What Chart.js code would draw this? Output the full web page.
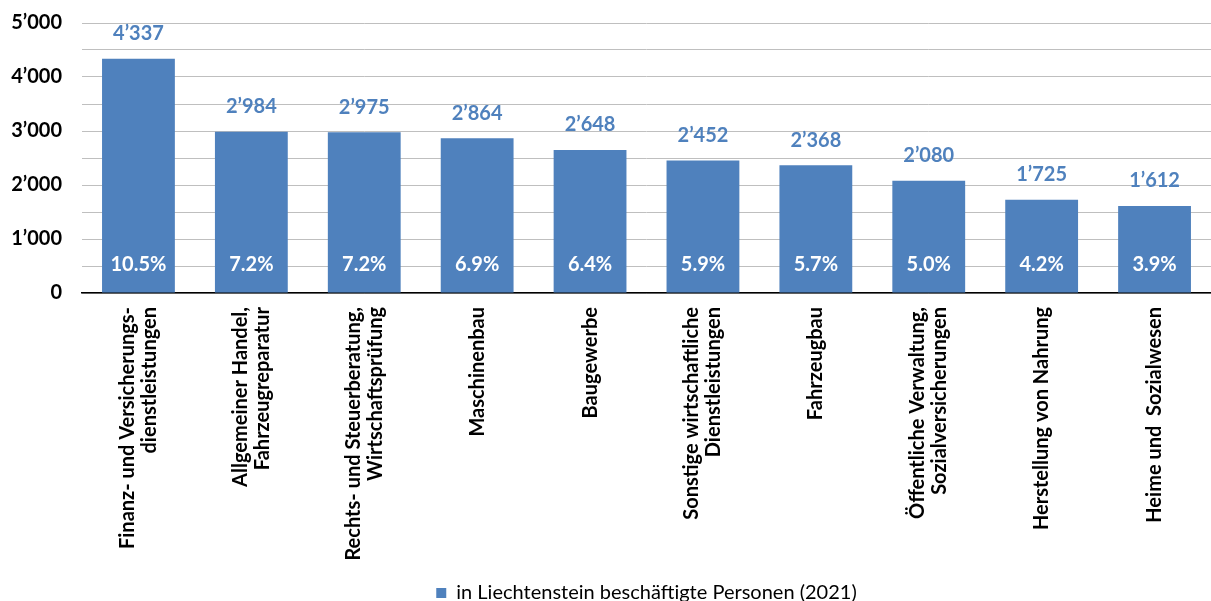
<!DOCTYPE html>
<html>
<head>
<meta charset="utf-8">
<script src="https://cdn.jsdelivr.net/npm/chart.js@4/dist/chart.umd.min.js"></script>
<style>
  html, body { margin: 0; padding: 0; background: #ffffff; }
  #wrap { width: 1211px; height: 601px; }
</style>
</head>
<body>
<div id="wrap"><canvas id="chart"></canvas></div>
<script>
// Categories (line breaks as in the original axis labels)
const categories = [
  ['Finanz- und Versicherungs-', 'dienstleistungen'],
  ['Allgemeiner Handel,', 'Fahrzeugreparatur'],
  ['Rechts- und Steuerberatung,', 'Wirtschaftsprüfung'],
  'Maschinenbau',
  'Baugewerbe',
  ['Sonstige wirtschaftliche', 'Dienstleistungen'],
  'Fahrzeugbau',
  ['Öffentliche Verwaltung,', 'Sozialversicherungen'],
  'Herstellung von Nahrung',
  'Heime und  Sozialwesen'
];

// Employed persons in Liechtenstein 2021
const persons = [4337, 2984, 2975, 2864, 2648, 2452, 2368, 2080, 1725, 1612];

// Share of total employment (%)
const shares = ['10.5%', '7.2%', '7.2%', '6.9%', '6.4%', '5.9%', '5.7%', '5.0%', '4.2%', '3.9%'];

const seriesLabel = 'in Liechtenstein beschäftigte Personen (2021)';

const barColor = '#4F81BD';
const fontFamily = 'Lato, "Open Sans", sans-serif';

// Swiss thousands separator 4’337
function swiss(v) {
  return String(v).replace(/\B(?=(\d{3})+(?!\d))/g, '\u2019');
}

//Draw the value labels above the bars and the share labels inside the bars
const barLabels = {
  id: 'barLabels',
  afterDatasetsDraw(chart) {
    const ctx = chart.ctx;
    const meta = chart.getDatasetMeta(0);
    const yScale = chart.scales.y;
    ctx.save();
    ctx.textAlign = 'center';
    ctx.textBaseline = 'middle';
    ctx.font = 'bold 20px ' + fontFamily;
    meta.data.forEach(function (bar, i) {
      ctx.fillStyle = barColor;
      ctx.fillText(swiss(persons[i]), bar.x, bar.y - 25);
      ctx.fillStyle = '#ffffff';
      ctx.fillText(shares[i], bar.x, yScale.getPixelForValue(0) - 28);
    });
    ctx.restore();
  }
};

//Rotated category labels, every line block centred under its bar
const categoryLabels = {
  id: 'categoryLabels',
  afterDraw(chart) {
    const ctx = chart.ctx;
    const xScale = chart.scales.x;
    const lineHeight = 22;
    ctx.save();
    ctx.fillStyle = '#000000';
    ctx.font = 'bold 20px ' + fontFamily;
    ctx.textAlign = 'right';
    ctx.textBaseline = 'middle';
    categories.forEach(function (cat, i) {
      const lines = Array.isArray(cat) ? cat : [cat];
      const x = xScale.getPixelForValue(i);
      ctx.save();
      ctx.translate(x, xScale.top + 14);
      ctx.rotate(-Math.PI / 2);
      lines.forEach(function (line, j) {
        ctx.fillText(line, 0, (j - (lines.length - 1) / 2) * lineHeight);
      });
      ctx.restore();
    });
    ctx.restore();
  }
};

new Chart(document.getElementById('chart'), {
  type: 'bar',
  data: {
    labels: categories,
    datasets: [{
      label: seriesLabel,
      data: persons,
      backgroundColor: barColor,
      borderWidth: 0,
      barPercentage: 0.645,
      categoryPercentage: 1.0
    }]
  },
  options: {
    responsive: true,
    maintainAspectRatio: false,
    animation: false,
    devicePixelRatio: 1,
    layout: { padding: { top: 23, right: -5, bottom: -12, left: 0 } },
    scales: {
      x: {
        grid: { display: false, drawTicks: false },
        border: { display: true, color: '#000000', width: 1.5 },
        ticks: { display: false },
        afterFit(scale) { scale.height = 280; }
      },
      y: {
        min: 0,
        max: 5000,
        grid: { color: '#BFBFBF', lineWidth: 1, drawTicks: false },
        border: { display: false },
        ticks: {
          stepSize: 500,
          padding: 20,
          color: '#000000',
          font: { family: fontFamily, size: 20, weight: 'bold' },
          callback: function (v) { return v % 1000 === 0 ? swiss(v) : ''; }
        },
        afterFit(scale) {
          scale.width = 82;
          scale.paddingTop = 0;
          scale.paddingBottom = 0;
        }
      }
    },
    plugins: {
      tooltip: { enabled: false },
      legend: {
        position: 'bottom',
        fullSize: false,
        labels: {
          color: '#000000',
          boxWidth: 10,
          boxHeight: 10,
          padding: 10,
          font: { family: fontFamily, size: 20 }
        }
      }
    }
  },
  plugins: [barLabels, categoryLabels]
});
</script>
</body>
</html>
